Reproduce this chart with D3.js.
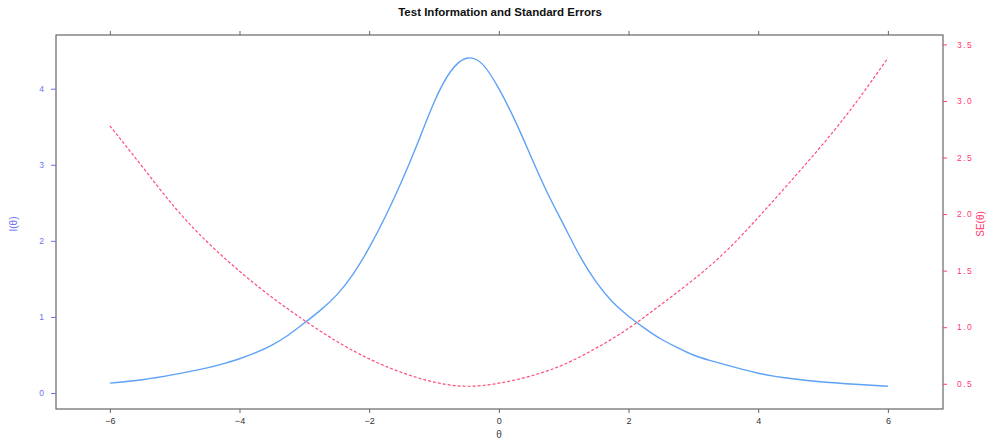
<!DOCTYPE html>
<html><head><meta charset="utf-8">
<script src="https://d3js.org/d3.v7.min.js"></script>
<style>body{margin:0;background:#fff}svg{display:block}</style>
</head><body>
<script>
const theta = [-6,-5.5,-5,-4.5,-4.25,-4,-3.75,-3.5,-3.25,-3,-2.75,-2.5,-2.25,-2,-1.75,-1.5,-1.25,-1,-0.75,-0.5,-0.25,0,0.25,0.5,0.75,1,1.25,1.5,1.75,2,2.25,2.5,2.75,3,3.25,3.5,4,4.5,5,5.5,6];
const info  = [0.13,0.175,0.245,0.33,0.385,0.45,0.53,0.63,0.76,0.92,1.09,1.29,1.56,1.91,2.32,2.78,3.29,3.82,4.22,4.40,4.32,4.00,3.58,3.10,2.63,2.21,1.80,1.46,1.20,1.01,0.85,0.71,0.60,0.50,0.43,0.37,0.26,0.19,0.145,0.115,0.09];
const seTheta = [-6,-5.5,-5,-4.5,-4,-3.5,-3,-2.5,-2,-1.5,-1,-0.5,0,0.5,1,1.5,2,2.5,3,3.5,4,4.5,5,5.5,6];
const se    = [2.78,2.42,2.06,1.755,1.495,1.265,1.06,0.875,0.72,0.60,0.515,0.478,0.505,0.57,0.67,0.815,0.99,1.20,1.42,1.67,1.97,2.29,2.62,2.98,3.38];
const xTicks = [-6,-4,-2,0,2,4,6];
const yLeftTicks = [0,1,2,3,4];
const yRightTicks = [0.5,1.0,1.5,2.0,2.5,3.0,3.5];
const title = "Test Information and Standard Errors";

const W=995,H=441;
const L=56,R=943,T=35,B=409;
const blue="#5ea2f5", red="#ff4d78", blueTxt="#6b74ee", redTxt="#ff3a6e", frame="#666";

const x = d3.scaleLinear().domain([-6.83,6.85]).range([L,R]);
const yL = d3.scaleLinear().domain([-0.21,4.706]).range([B,T]);
const yR = d3.scaleLinear().domain([0.277,3.583]).range([B,T]);

const svg=d3.select("body").append("svg").attr("width",W).attr("height",H)
  .style("font-family","'Liberation Sans', Arial, sans-serif");

svg.append("rect").attr("x",L).attr("y",T).attr("width",R-L).attr("height",B-T)
  .attr("fill","none").attr("stroke",frame).attr("stroke-width",1.2);

function styleAxis(g,col,txt,fs){
  g.select(".domain").remove();
  g.selectAll(".tick line").attr("stroke",col);
  g.selectAll(".tick text").attr("fill",txt).style("font-size",fs+"px").style("font-family","'Liberation Sans', Arial, sans-serif");
}
const gb=svg.append("g").attr("transform",`translate(0,${B})`)
  .call(d3.axisBottom(x).tickValues(xTicks).tickSize(4).tickPadding(5).tickFormat(d3.format("d")));
styleAxis(gb,frame,"#333",9);
const gt=svg.append("g").attr("transform",`translate(0,${T})`)
  .call(d3.axisTop(x).tickValues(xTicks).tickSize(4).tickFormat(""));
styleAxis(gt,frame,"#333",9);
const gl=svg.append("g").attr("transform",`translate(${L},0)`)
  .call(d3.axisLeft(yL).tickValues(yLeftTicks).tickSize(5).tickPadding(7).tickFormat(d3.format("d")));
styleAxis(gl,blueTxt,blueTxt,8.5);
const gr=svg.append("g").attr("transform",`translate(${R},0)`)
  .call(d3.axisRight(yR).tickValues(yRightTicks).tickSize(4).tickPadding(10).tickFormat(d3.format(".1f")));
styleAxis(gr,redTxt,redTxt,8.5);
gr.selectAll(".tick text").style("letter-spacing","1.5px");

const lineI=d3.line().x((d,i)=>x(theta[i])).y(d=>yL(d)).curve(d3.curveNatural);
const lineS=d3.line().x((d,i)=>x(seTheta[i])).y(d=>yR(d)).curve(d3.curveNatural);
svg.append("path").attr("d",lineI(info)).attr("fill","none").attr("stroke",blue).attr("stroke-width",1.4);
svg.append("path").attr("d",lineS(se)).attr("fill","none").attr("stroke",red).attr("stroke-width",1.2).attr("stroke-dasharray","3,2");

svg.append("text").attr("x",500).attr("y",16).attr("text-anchor","middle")
  .style("font-size","11.5px").style("font-weight","bold").attr("fill","#111").text(title);
svg.append("text").attr("x",499).attr("y",438).attr("text-anchor","middle")
  .style("font-size","10px").attr("fill","#444").text("θ");
svg.append("text").attr("transform","translate(17,224) rotate(-90)").attr("text-anchor","middle")
  .style("font-size","10px").attr("fill",blueTxt).text("I(θ)");
svg.append("text").attr("transform","translate(984,224) rotate(-90)").attr("text-anchor","middle")
  .style("font-size","10px").attr("fill",redTxt).text("SE(θ)");
</script>
</body></html>
